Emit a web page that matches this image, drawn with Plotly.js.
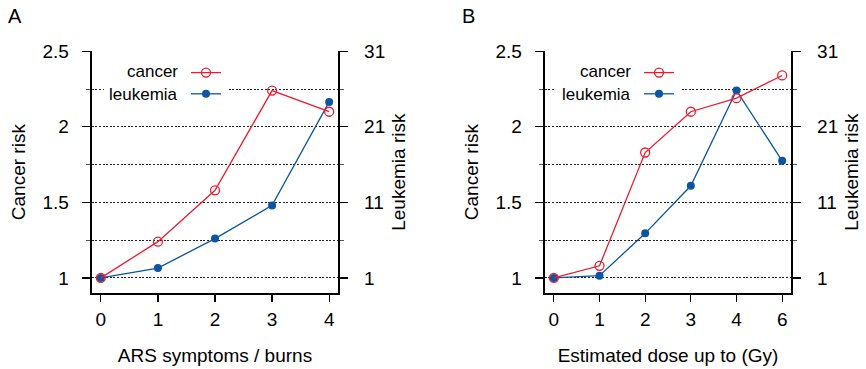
<!DOCTYPE html>
<html><head><meta charset="utf-8">
<script src="https://cdn.plot.ly/plotly-3.0.1.min.js"></script>
<style>html,body{margin:0;padding:0;background:#fff}#chart{width:866px;height:369px}</style>
</head><body><div id="chart"></div>
<script>
// ---- data ----
const arsLevels = ['0', '1', '2', '3', '4'];
const arsCancer = [1.00, 1.24, 1.58, 2.24, 2.10];
const arsLeukemia = [1.0, 2.3, 6.2, 10.6, 24.3];

const doseLevels = ['0', '1', '2', '3', '4', '6'];
const doseCancer = [1.00, 1.08, 1.83, 2.10, 2.19, 2.34];
const doseLeukemia = [1.0, 1.3, 6.9, 13.2, 25.8, 16.5];

const cancerTicks = [1, 1.5, 2, 2.5];
const cancerTickText = ['1', '1.5', '2', '2.5'];
const leukemiaTicks = [1, 11, 21, 31];
const seriesNames = ['cancer', 'leukemia'];
const panelLabels = ['A', 'B'];
const xTitles = ['ARS symptoms / burns', 'Estimated dose up to (Gy)'];
const yTitles = ['Cancer risk', 'Leukemia risk'];

// ---- style ----
const RED = '#EC1C2E';
const BLUE = '#0B55A3';
const W = 866, H = 369;
const FONT = 'Liberation Sans, Arial, sans-serif';
const px = v => v / W;
const py = v => 1 - v / H;

const yDom = [py(293), py(51.3)];
const xDomA = [px(91.7), px(338.3)];
const xDomB = [px(544.7), px(791.3)];

function leukTrace(x, y, xa, ya, lg) {
  return {x: x, y: y, xaxis: xa, yaxis: ya, type: 'scatter', mode: 'lines+markers',
    name: ' ', legend: lg, legendrank: 2, showlegend: true,
    line: {color: BLUE, width: 1.3},
    marker: {symbol: 'circle', size: 8, color: BLUE}, hoverinfo: 'x+y'};
}
function cancerTrace(x, y, xa, ya, lg) {
  return {x: x, y: y, xaxis: xa, yaxis: ya, type: 'scatter', mode: 'lines+markers',
    name: ' ', legend: lg, legendrank: 1, showlegend: true,
    line: {color: RED, width: 1.3},
    marker: {symbol: 'circle-open', size: 9, color: RED, line: {color: RED, width: 1.3}}, hoverinfo: 'x+y'};
}

const data = [
  leukTrace(arsLevels, arsLeukemia, 'x', 'y', 'legend'),
  cancerTrace(arsLevels, arsCancer, 'x', 'y2', 'legend'),
  leukTrace(doseLevels, doseLeukemia, 'x2', 'y3', 'legend2'),
  cancerTrace(doseLevels, doseCancer, 'x2', 'y4', 'legend2')
];

const tickFont = {family: FONT, size: 19, color: '#000'};
const gridDash = '2px,1.6px';

function xAxis(dom, anchor, n, title) {
  return {domain: dom, anchor: anchor, type: 'category',
    range: [-0.04 * (n - 1), (n - 1) * 1.04],
    showline: true, linewidth: 2, linecolor: '#000', mirror: false,
    ticks: 'outside', ticklen: 7, tickwidth: 1.3, tickcolor: '#000',
    tickfont: tickFont, ticklabelstandoff: 1,
    showgrid: false, zeroline: false, fixedrange: true,
    title: {text: title, font: tickFont, standoff: 20}};
}
function rightAxis(anchor, title) {
  return {domain: yDom, anchor: anchor, side: 'right', range: [-1, 31],
    tickvals: leukemiaTicks, ticktext: leukemiaTicks.map(String),
    showline: true, linewidth: 2, linecolor: '#000',
    ticks: 'outside', ticklen: 8, tickwidth: 1.3, tickcolor: '#000',
    tickfont: tickFont, ticklabelstandoff: 12,
    minor: {dtick: 5, tick0: 1, ticks: 'outside', ticklen: 4, tickwidth: 1, tickcolor: '#555', showgrid: false},
    showgrid: false, zeroline: false, fixedrange: true,
    title: {text: title, font: tickFont, standoff: 7}};
}
function leftAxis(anchor, over, title) {
  return {overlaying: over, anchor: anchor, side: 'left', range: [0.9, 2.5],
    tickvals: cancerTicks, ticktext: cancerTickText,
    showline: true, linewidth: 2, linecolor: '#000',
    ticks: 'outside', ticklen: 8, tickwidth: 1.3, tickcolor: '#000',
    tickfont: tickFont, ticklabelstandoff: 9,
    showgrid: true, gridcolor: '#222', gridwidth: 1, griddash: gridDash,
    minor: {dtick: 0.25, tick0: 1, ticks: 'outside', ticklen: 4, tickwidth: 1, tickcolor: '#555',
      showgrid: true, gridcolor: '#222', gridwidth: 1, griddash: gridDash},
    zeroline: false, fixedrange: true,
    title: {text: title, font: tickFont, standoff: 12}};
}

function legendBox(xpx) {
  return {x: px(xpx), xanchor: 'left', y: py(57), yanchor: 'top',
    bgcolor: 'rgba(0,0,0,0)', borderwidth: 0, font: {family: FONT, size: 14},
    itemwidth: 30, traceorder: 'normal'};
}

const annotations = [
  {text: panelLabels[0], x: px(6), y: py(16)},
  {text: panelLabels[1], x: px(460), y: py(16)}
].map(a => Object.assign(a, {xref: 'paper', yref: 'paper', xanchor: 'left', yanchor: 'middle',
  showarrow: false, font: {family: FONT, size: 20, color: '#000'}}));

[180, 633].forEach(xr => {
  seriesNames.forEach((nm, i) => {
    annotations.push({text: nm, x: px(xr), y: py(71 + 23 * i), xref: 'paper', yref: 'paper',
      xanchor: 'right', yanchor: 'middle', showarrow: false,
      font: {family: FONT, size: 17, color: '#000'}});
  });
});

const shapes = [[104, 229], [556, 682]].map(([a, b]) => ({
  type: 'rect', xref: 'paper', yref: 'paper', x0: px(a), x1: px(b), y0: py(110), y1: py(57),
  fillcolor: '#fff', line: {width: 0}, layer: 'above'}));

const layout = {
  width: W, height: H, margin: {l: 0, r: 0, t: 0, b: 0},
  paper_bgcolor: '#fff', plot_bgcolor: 'rgba(0,0,0,0)',
  font: {family: FONT, color: '#000'},
  showlegend: true,
  xaxis: xAxis(xDomA, 'y', arsLevels.length, xTitles[0]),
  yaxis: rightAxis('x', yTitles[1]),
  yaxis2: leftAxis('x', 'y', yTitles[0]),
  xaxis2: xAxis(xDomB, 'y3', doseLevels.length, xTitles[1]),
  yaxis3: rightAxis('x2', yTitles[1]),
  yaxis4: leftAxis('x2', 'y3', yTitles[0]),
  legend: legendBox(186),
  legend2: legendBox(639),
  annotations: annotations,
  shapes: shapes
};

Plotly.newPlot('chart', data, layout, {displayModeBar: false, staticPlot: true});
</script>
</body></html>
